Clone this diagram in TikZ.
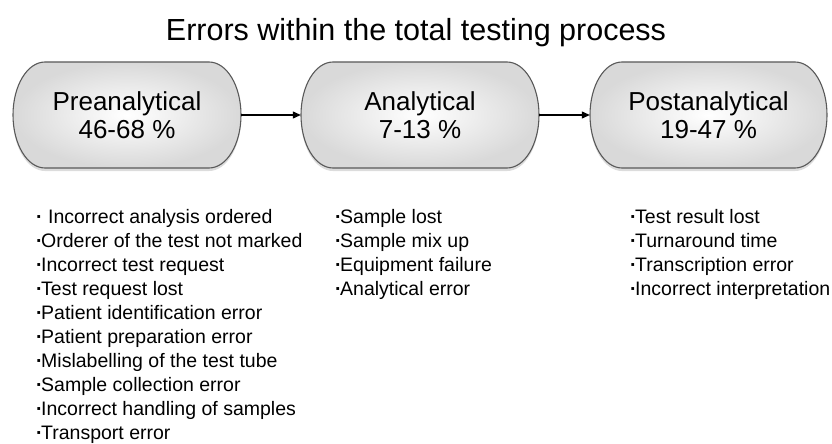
\documentclass[tikz,border=0pt]{standalone}
\usepackage{fontspec}
\setmainfont{Liberation Sans}
\usetikzlibrary{shadows,arrows.meta}
\newcommand\pillpath[4]{(#1+32,#3) -- (#2-32,#3) .. controls (#2-14.3,#3) and (#2,#3+23.7) .. (#2,{(#3+#4)/2}) .. controls (#2,#4-23.7) and (#2-14.3,#4) .. (#2-32,#4) -- (#1+32,#4) .. controls (#1+14.3,#4) and (#1,#4-23.7) .. (#1,{(#3+#4)/2}) .. controls (#1,#3+23.7) and (#1+14.3,#3) .. cycle}
\newcommand\bul{\textbf{·}\kern-1.5pt\relax}
\begin{document}
\begin{tikzpicture}[x=1pt,y=-1pt,
  pillbg/.style={draw=black!65, line width=1.1pt, inner color=white, outer color=black!15,
    drop shadow={shadow xshift=0pt, shadow yshift=-3pt, opacity=0.28}},
  phase/.style={minimum height=106pt, inner sep=0pt,
    align=center, font=\fontsize{26}{28}\selectfont},
  errlist/.style={anchor=base west, inner sep=0pt,
    font=\fontsize{19.5}{24}\selectfont},
  flow/.style={-{Triangle[length=8pt,width=7pt]}, line width=1.2pt}]
\useasboundingbox (0,0) rectangle (832,444);
\path[pillbg] \pillpath{13}{241}{62}{168};
\path[pillbg] \pillpath{301}{539}{62}{168};
\path[pillbg] \pillpath{590}{827}{62}{168};
\node[anchor=base, font=\fontsize{30.5}{32}\selectfont] (title) at (416,41) {Errors within the total testing process};
\node[phase, minimum width=228pt] (pre) at (127,115) {Preanalytical\\46-68 \%};
\node[phase, minimum width=238pt] (ana) at (420,115) {Analytical\\7-13 \%};
\node[phase, minimum width=237pt] (post) at (708.5,115) {Postanalytical\\19-47 \%};
\draw[flow] (pre) -- (ana);
\draw[flow] (ana) -- (post);
\node[errlist] (l1) at (36,223) {\vtop{\hbox{\textbf{·} Incorrect analysis ordered}
\hbox{\bul Orderer of the test not marked}
\hbox{\bul Incorrect test request}
\hbox{\bul Test request lost}
\hbox{\bul Patient identification error}
\hbox{\bul Patient preparation error}
\hbox{\bul Mislabelling of the test tube}
\hbox{\bul Sample collection error}
\hbox{\bul Incorrect handling of samples}
\hbox{\bul Transport error}}};
\node[errlist] (l2) at (335,223) {\vtop{\hbox{\bul Sample lost}
\hbox{\bul Sample mix up}
\hbox{\bul Equipment failure}
\hbox{\bul Analytical error}}};
\node[errlist] (l3) at (630,223) {\vtop{\hbox{\bul Test result lost}
\hbox{\bul Turnaround time}
\hbox{\bul Transcription error}
\hbox{\bul Incorrect interpretation}}};
\end{tikzpicture}
\end{document}
